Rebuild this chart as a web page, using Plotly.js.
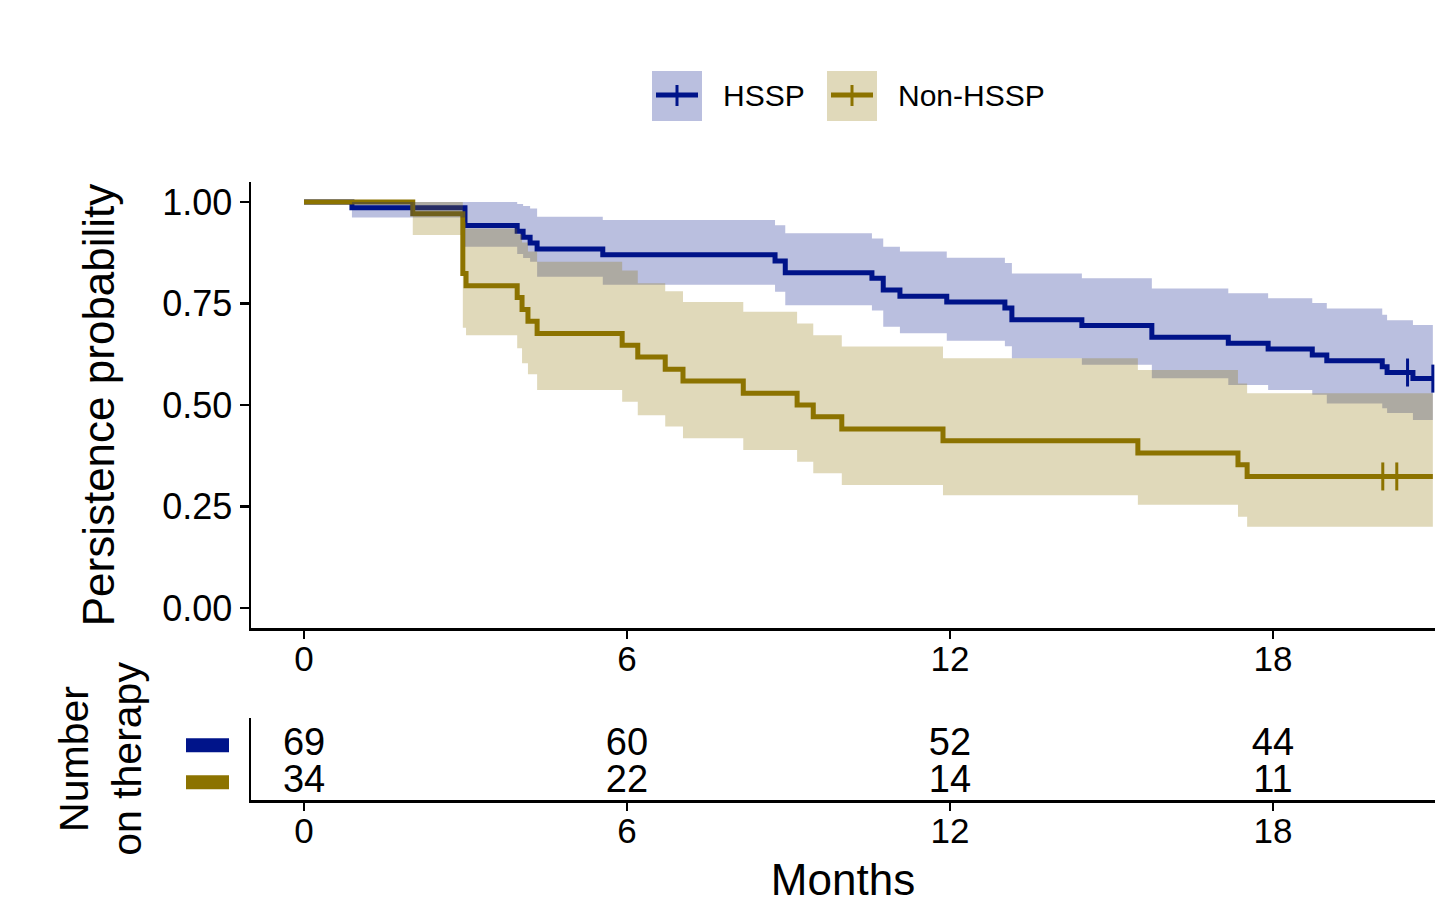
<!DOCTYPE html>
<html>
<head>
<meta charset="utf-8">
<script src="https://cdn.plot.ly/plotly-3.0.1.min.js"></script>
<style>
  html, body { margin: 0; padding: 0; background: #ffffff; }
  #chart { width: 1445px; height: 917px; }
</style>
</head>
<body>
<div id="chart"></div>
<script>
// ---------------- DATA ----------------
const groups = ["HSSP", "Non-HSSP"];

// HSSP step times (months), survival estimate and 95% CI
const timesHSSP = [0, 0.89, 2.99, 3.96, 4.07, 4.20, 4.33, 5.55, 8.75, 8.94, 10.55, 10.76, 11.07, 11.94, 13.02, 13.15, 14.45, 15.75, 17.17, 17.91, 18.73, 19.00, 20.03, 20.12, 20.60, 20.97];
const survHSSP  = [1, 0.986, 0.942, 0.928, 0.913, 0.899, 0.884, 0.870, 0.855, 0.826, 0.812, 0.783, 0.768, 0.754, 0.739, 0.710, 0.696, 0.667, 0.652, 0.638, 0.623, 0.609, 0.594, 0.580, 0.565, 0.565];
const upperHSSP = [1, 1.000, 1.000, 0.995, 0.990, 0.984, 0.964, 0.956, 0.943, 0.923, 0.910, 0.890, 0.878, 0.863, 0.850, 0.824, 0.812, 0.787, 0.775, 0.763, 0.751, 0.738, 0.722, 0.709, 0.697, 0.697];
const lowerHSSP = [1, 0.962, 0.890, 0.872, 0.862, 0.853, 0.816, 0.796, 0.779, 0.746, 0.733, 0.693, 0.677, 0.658, 0.645, 0.615, 0.599, 0.566, 0.549, 0.537, 0.525, 0.504, 0.492, 0.480, 0.463, 0.463];
const censorTimesHSSP = [20.50, 20.97];
const censorSurvHSSP  = [0.580, 0.565];

// Non-HSSP
const timesNon = [0, 2.02, 2.95, 3.01, 3.96, 4.05, 4.16, 4.33, 5.91, 6.20, 6.71, 7.04, 8.16, 9.16, 9.46, 9.99, 11.87, 15.49, 17.35, 17.52, 20.97];
const survNon  = [1, 0.971, 0.824, 0.794, 0.765, 0.735, 0.706, 0.676, 0.647, 0.618, 0.588, 0.559, 0.529, 0.500, 0.471, 0.441, 0.412, 0.382, 0.353, 0.324, 0.324];
const upperNon = [1, 1.000, 0.950, 0.935, 0.920, 0.900, 0.878, 0.853, 0.831, 0.800, 0.780, 0.754, 0.730, 0.701, 0.672, 0.644, 0.615, 0.586, 0.553, 0.529, 0.529];
const lowerNon = [1, 0.919, 0.690, 0.672, 0.640, 0.603, 0.576, 0.537, 0.508, 0.475, 0.447, 0.418, 0.389, 0.360, 0.332, 0.303, 0.278, 0.254, 0.225, 0.200, 0.200];
const censorTimesNon = [20.04, 20.30];
const censorSurvNon  = [0.324, 0.324];

// Risk table
const riskTimes = [0, 6, 12, 18];
const riskHSSP  = [69, 60, 52, 44];
const riskNon   = [34, 22, 14, 11];

const xTicks = [0, 6, 12, 18];
const yTicks = [0, 0.25, 0.5, 0.75, 1];
const yTickText = ["0.00", "0.25", "0.50", "0.75", "1.00"];

// ---------------- STYLE ----------------
const colHSSP = "#00148A";
const colNon  = "#8C7300";
const fillHSSP = "rgba(0,20,138,0.27)";
const fillNon  = "rgba(140,115,0,0.27)";
const FONT = "Liberation Sans, Arial, sans-serif";

const W = 1445, H = 917, ML = 251, MR = 10;
const PW = W - ML - MR;
const px2x = p => (p - ML) / PW;
const py2y = p => 1 - p / H;

const traces = [
  {x: timesHSSP, y: survHSSP, type: "scatter", mode: "lines", line: {shape: "hv", color: colHSSP, width: 5}, name: groups[0], showlegend: false, hoverinfo: "skip"},
  {x: timesNon, y: survNon, type: "scatter", mode: "lines", line: {shape: "hv", color: colNon, width: 5}, name: groups[1], showlegend: false, hoverinfo: "skip"},
  {x: timesHSSP, y: lowerHSSP, type: "scatter", mode: "lines", line: {shape: "hv", width: 0, color: fillHSSP}, showlegend: false, hoverinfo: "skip"},
  {x: timesHSSP, y: upperHSSP, type: "scatter", mode: "lines", line: {shape: "hv", width: 0, color: fillHSSP}, fill: "tonexty", fillcolor: fillHSSP, showlegend: false, hoverinfo: "skip"},
  {x: timesNon, y: lowerNon, type: "scatter", mode: "lines", line: {shape: "hv", width: 0, color: fillNon}, showlegend: false, hoverinfo: "skip"},
  {x: timesNon, y: upperNon, type: "scatter", mode: "lines", line: {shape: "hv", width: 0, color: fillNon}, fill: "tonexty", fillcolor: fillNon, showlegend: false, hoverinfo: "skip"},
  {x: censorTimesHSSP, y: censorSurvHSSP, type: "scatter", mode: "markers", marker: {symbol: "line-ns-open", size: 20, color: colHSSP, line: {color: colHSSP, width: 3}}, showlegend: false, hoverinfo: "skip"},
  {x: censorTimesNon, y: censorSurvNon, type: "scatter", mode: "markers", marker: {symbol: "line-ns-open", size: 20, color: colNon, line: {color: colNon, width: 3}}, showlegend: false, hoverinfo: "skip"},
  {x: riskTimes, y: riskTimes.map(() => 2), text: riskHSSP.map(String), type: "scatter", mode: "text", textposition: "middle center", textfont: {family: FONT, size: 38, color: "#000"}, xaxis: "x2", yaxis: "y2", showlegend: false, hoverinfo: "skip"},
  {x: riskTimes, y: riskTimes.map(() => 1), text: riskNon.map(String), type: "scatter", mode: "text", textposition: "middle center", textfont: {family: FONT, size: 38, color: "#000"}, xaxis: "x2", yaxis: "y2", showlegend: false, hoverinfo: "skip"}
];

const xRange = [-0.985, 21.01];
const axisCommon = {showline: true, linecolor: "#000", linewidth: 2.5, ticks: "outside", ticklen: 8, tickwidth: 2.5, tickcolor: "#000", showgrid: false, zeroline: false};

const shapes = [];
const annotations = [];
// custom legend
const legendItems = [
  {box: 652, text: 721, col: colHSSP, fill: fillHSSP, label: groups[0]},
  {box: 827, text: 896, col: colNon, fill: fillNon, label: groups[1]}
];
legendItems.forEach(it => {
  shapes.push({type: "rect", xref: "paper", yref: "paper", x0: px2x(it.box), x1: px2x(it.box + 50), y0: py2y(121), y1: py2y(71), fillcolor: it.fill, line: {width: 0}});
  shapes.push({type: "line", xref: "paper", yref: "paper", x0: px2x(it.box + 4), x1: px2x(it.box + 46), y0: py2y(95), y1: py2y(95), line: {color: it.col, width: 5}});
  shapes.push({type: "line", xref: "paper", yref: "paper", x0: px2x(it.box + 25), x1: px2x(it.box + 25), y0: py2y(85), y1: py2y(106), line: {color: it.col, width: 3}});
  annotations.push({xref: "paper", yref: "paper", x: px2x(it.text), y: py2y(96), xanchor: "left", yanchor: "middle", text: it.label, showarrow: false, font: {family: FONT, size: 30, color: "#000"}});
});
// risk table colour keys
[[2, colHSSP], [1, colNon]].forEach(([row, c]) => {
  shapes.push({type: "rect", xref: "paper", yref: "y2", x0: px2x(186), x1: px2x(229), y0: row - 0.19, y1: row + 0.19, fillcolor: c, line: {width: 0}});
});

const layout = {
  width: W, height: H,
  margin: {l: ML, r: MR, t: 0, b: 0, pad: 0},
  paper_bgcolor: "#fff", plot_bgcolor: "#fff",
  font: {family: FONT, color: "#000"},
  showlegend: false,
  xaxis: Object.assign({}, axisCommon, {domain: [0, 1], anchor: "y", range: xRange, tickvals: xTicks, ticktext: xTicks.map(String), tickfont: {family: FONT, size: 35, color: "#000"}, ticklabelstandoff: -10}),
  yaxis: Object.assign({}, axisCommon, {domain: [py2y(628), py2y(182)], anchor: "x", range: [-0.0493, 1.0493], tickvals: yTicks, ticktext: yTickText, tickfont: {family: FONT, size: 36, color: "#000"}, ticklen: 9,
    title: {text: "Persistence probability", font: {family: FONT, size: 44, color: "#000"}, standoff: 34}}),
  xaxis2: Object.assign({}, axisCommon, {domain: [0, 1], anchor: "y2", range: xRange, tickvals: xTicks, ticktext: xTicks.map(String), tickfont: {family: FONT, size: 35, color: "#000"}, ticklabelstandoff: -10,
    title: {text: "Months", font: {family: FONT, size: 44, color: "#000"}, standoff: 16}}),
  yaxis2: {domain: [py2y(800), py2y(718)], anchor: "x2", range: [0.522, 2.739], showline: true, linecolor: "#000", linewidth: 2.5, showticklabels: false, ticks: "", showgrid: false, zeroline: false,
    title: {text: "Number<br>on therapy", font: {family: FONT, size: 41, color: "#000"}, standoff: 94}},
  shapes: shapes,
  annotations: annotations
};

Plotly.newPlot("chart", traces, layout, {staticPlot: true, displayModeBar: false});
</script>
</body>
</html>
